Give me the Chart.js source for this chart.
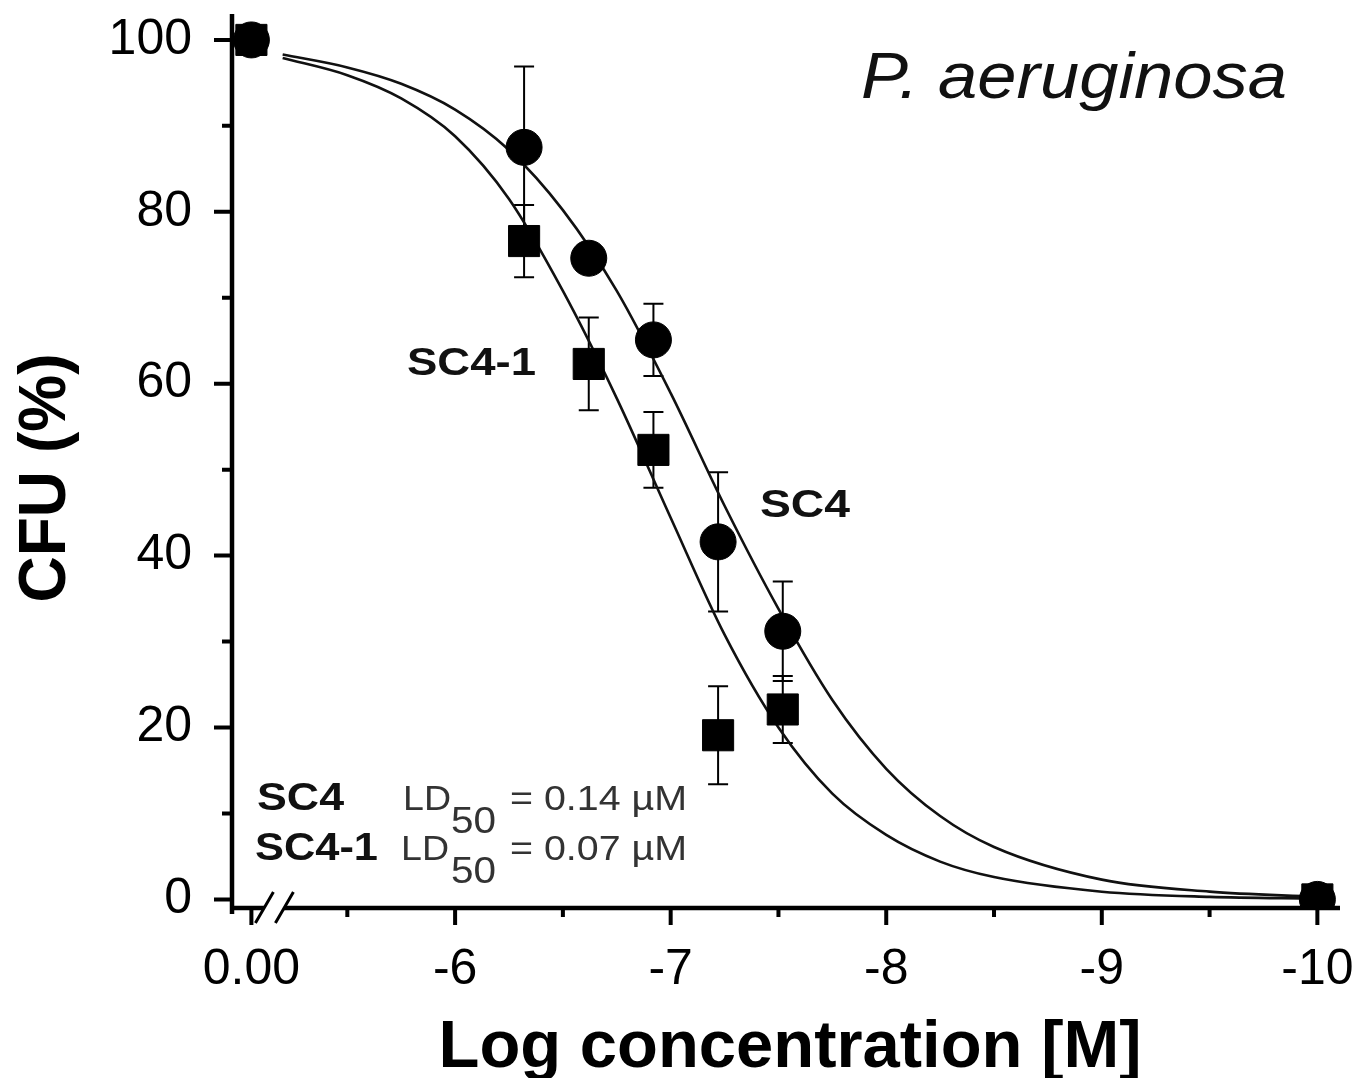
<!DOCTYPE html>
<html>
<head>
<meta charset="utf-8">
<script src="https://cdn.jsdelivr.net/npm/chart.js@4.4.1/dist/chart.umd.min.js"></script>
<style>
  html, body { margin: 0; padding: 0; background: #fff; }
  #wrap { width: 1358px; height: 1078px; }
</style>
</head>
<body>
<div id="wrap"><canvas id="myChart" width="1358" height="1078"></canvas></div>
<script>
// x position used for the "0.00" (no drug) point, left of the axis break
const ZERO_POS = -5.055;

// measured points (log concentration, CFU %)
const doseLog = [ZERO_POS, -6.32, -6.62, -6.92, -7.22, -7.52, -10];
const sc4Mean = [100, 87.5, 74.6, 65.1, 41.6, 31.2, 0];
const sc4Sd = [0, 9.4, 1.5, 4.2, 8.1, 5.8, 0];
const sc41Mean = [100, 76.6, 62.3, 52.3, 19.1, 22.1, 0];
const sc41Sd = [0, 4.2, 5.4, 4.4, 5.7, 3.9, 0];

// fitted curves
const fitLog = [-5.2, -5.5, -5.75, -6.0, -6.25, -6.5, -6.75, -7.0, -7.25, -7.5, -7.75, -8.0, -8.25, -8.5, -9.0, -9.5, -10.0];
const sc4Fit = [98.3, 96.8, 94.9, 91.9, 87.2, 80.2, 70.8, 58.9, 45.8, 33.8, 23.2, 15.2, 9.7, 6.1, 2.3, 0.9, 0.3];
const sc41Fit = [97.9, 95.9, 93.2, 88.8, 81.5, 70.8, 58.3, 44.4, 30.8, 20.0, 12.3, 7.5, 4.4, 2.6, 0.9, 0.3, 0.1];

// axes
const xTickVals = [ZERO_POS, -6, -7, -8, -9, -10];
const xTickLabels = ["0.00", "-6", "-7", "-8", "-9", "-10"];
const xMinorVals = [-5.5, -6.5, -7.5, -8.5, -9.5];
const yTickVals = [0, 20, 40, 60, 80, 100];
const yTickLabels = ["0", "20", "40", "60", "80", "100"];
const yMinorVals = [10, 30, 50, 70, 90];

const ctx = document.getElementById("myChart");
const INK = "#000";
const tickFont = { family: "'Liberation Sans', Arial, sans-serif", size: 50 };

const toXY = (xs, ys) => xs.map((x, i) => ({ x: x, y: ys[i] }));

// keep the plot box where the figure has it: no extra room for overhanging labels
function pinScale(scale) {
  scale.paddingTop = 0;
  scale.paddingBottom = 0;
  scale.paddingLeft = 0;
  scale.paddingRight = 0;
}

// draws text squeezed/stretched to a given width (the figure's fonts run wide)
function fitText(c, text, x, y, font, width, color, align) {
  c.save();
  c.font = font;
  c.fillStyle = color || INK;
  c.textBaseline = "alphabetic";
  c.textAlign = "left";
  const w = c.measureText(text).width;
  c.translate(x, y);
  c.scale(width / w, 1);
  c.fillText(text, align === "center" ? -w / 2 : 0, 0);
  c.restore();
}

const errorBars = {
  id: "errorBars",
  beforeDatasetsDraw(chart) {
    const c = chart.ctx;
    const xs = chart.scales.x;
    const ys = chart.scales.y;
    c.save();
    c.strokeStyle = INK;
    c.lineWidth = 2;
    [[sc4Mean, sc4Sd], [sc41Mean, sc41Sd]].forEach(([mean, sd]) => {
      doseLog.forEach((x, i) => {
        if (!sd[i]) return;
        const px = xs.getPixelForValue(x);
        const top = ys.getPixelForValue(mean[i] + sd[i]);
        const bot = ys.getPixelForValue(mean[i] - sd[i]);
        c.beginPath();
        c.moveTo(px, top); c.lineTo(px, bot);
        c.moveTo(px - 10, top); c.lineTo(px + 10, top);
        c.moveTo(px - 10, bot); c.lineTo(px + 10, bot);
        c.stroke();
      });
    });
    c.restore();
  },
};

const frame = {
  id: "frame",
  afterDatasetsDraw(chart) {
    const c = chart.ctx;
    const a = chart.chartArea;
    const xs = chart.scales.x;
    const ys = chart.scales.y;
    c.save();
    c.strokeStyle = INK;
    c.lineCap = "butt";

    // axis lines
    c.lineWidth = 4.5;
    c.beginPath();
    c.moveTo(a.left, a.top - 1);
    c.lineTo(a.left, a.bottom + 6);
    c.moveTo(a.left - 2, a.bottom);
    c.lineTo(a.right, a.bottom);
    c.stroke();

    // tick marks
    c.lineWidth = 4;
    c.beginPath();
    yTickVals.forEach((v) => {
      const py = ys.getPixelForValue(v);
      c.moveTo(a.left, py); c.lineTo(a.left - 18, py);
    });
    yMinorVals.forEach((v) => {
      const py = ys.getPixelForValue(v);
      c.moveTo(a.left, py); c.lineTo(a.left - 10, py);
    });
    xTickVals.forEach((v) => {
      const px = xs.getPixelForValue(v);
      c.moveTo(px, a.bottom); c.lineTo(px, a.bottom + 17);
    });
    xMinorVals.forEach((v) => {
      const px = xs.getPixelForValue(v);
      c.moveTo(px, a.bottom); c.lineTo(px, a.bottom + 9);
    });
    c.stroke();

    // axis break "//"
    const bx = xs.getPixelForValue(ZERO_POS) + 2;
    c.fillStyle = "#fff";
    c.beginPath();
    c.moveTo(bx + 2, a.bottom + 15);
    c.lineTo(bx + 20, a.bottom - 16);
    c.lineTo(bx + 40, a.bottom - 16);
    c.lineTo(bx + 22, a.bottom + 15);
    c.closePath();
    c.fill();
    c.lineWidth = 3;
    c.beginPath();
    c.moveTo(bx + 2, a.bottom + 15); c.lineTo(bx + 20, a.bottom - 16);
    c.moveTo(bx + 22, a.bottom + 15); c.lineTo(bx + 40, a.bottom - 16);
    c.stroke();
    c.restore();

    // texts
    const sans = "'Liberation Sans', Arial, sans-serif";
    fitText(c, "P. aeruginosa", 861, 98, "italic 64px " + sans, 426, "#111");
    fitText(c, "SC4-1", 407, 375, "bold 38px " + sans, 129, "#111");
    fitText(c, "SC4", 760, 517, "bold 38px " + sans, 90, "#111");

    fitText(c, "SC4", 257, 810, "bold 38px " + sans, 87, "#111");
    fitText(c, "LD", 403, 810, "35px " + sans, 48, "#333");
    fitText(c, "50", 451, 833, "36px " + sans, 45, "#333");
    fitText(c, "= 0.14 \u00b5M", 510, 810, "35px " + sans, 177, "#333");
    fitText(c, "SC4-1", 255, 860, "bold 38px " + sans, 123, "#111");
    fitText(c, "LD", 401, 860, "35px " + sans, 48, "#333");
    fitText(c, "50", 451, 883, "36px " + sans, 45, "#333");
    fitText(c, "= 0.07 \u00b5M", 510, 860, "35px " + sans, 177, "#333");

    fitText(c, "Log concentration [M]", 790, 1067, "bold 66px " + sans, 703, INK, "center");
    c.save();
    c.translate(65, 478);
    c.rotate(-Math.PI / 2);
    fitText(c, "CFU (%)", 0, 0, "bold 66px " + sans, 249, INK, "center");
    c.restore();
  },
};

new Chart(ctx, {
  type: "scatter",
  data: {
    datasets: [
      {
        label: "SC4-1",
        data: toXY(doseLog, sc41Mean),
        pointStyle: "rect",
        pointRadius: 22,
        backgroundColor: INK,
        borderColor: INK,
        borderWidth: 1,
        order: 0,
      },
      {
        label: "SC4",
        data: toXY(doseLog, sc4Mean),
        pointStyle: "circle",
        pointRadius: 18,
        backgroundColor: INK,
        borderColor: INK,
        borderWidth: 1,
        order: 1,
      },
      {
        label: "SC4 fit",
        data: toXY(fitLog, sc4Fit),
        showLine: true,
        pointRadius: 0,
        borderColor: "#111",
        borderWidth: 2.6,
        cubicInterpolationMode: "monotone",
        order: 2,
      },
      {
        label: "SC4-1 fit",
        data: toXY(fitLog, sc41Fit),
        showLine: true,
        pointRadius: 0,
        borderColor: "#111",
        borderWidth: 2.6,
        cubicInterpolationMode: "monotone",
        order: 2,
      },
    ],
  },
  options: {
    responsive: false,
    animation: false,
    devicePixelRatio: 1,
    layout: { autoPadding: false, padding: { left: 0, right: 18, top: 15, bottom: 0 } },
    plugins: {
      legend: { display: false },
      tooltip: { enabled: false },
    },
    scales: {
      x: {
        type: "linear",
        reverse: true,
        min: -10.105,
        max: -4.965,
        grid: { display: false },
        border: { display: false },
        afterBuildTicks: (scale) => {
          scale.ticks = xTickVals.map((v) => ({ value: v }));
        },
        afterFit: (scale) => {
          scale.height = 170;
          pinScale(scale);
        },
        ticks: {
          autoSkip: false,
          maxRotation: 0,
          padding: 24,
          color: INK,
          font: tickFont,
          callback: (value, index) => xTickLabels[index],
        },
      },
      y: {
        type: "linear",
        min: -1.0,
        max: 102.9,
        grid: { display: false },
        border: { display: false },
        afterBuildTicks: (scale) => {
          scale.ticks = yTickVals.map((v) => ({ value: v }));
        },
        afterFit: (scale) => {
          scale.width = 232;
          pinScale(scale);
        },
        ticks: {
          padding: 32,
          color: INK,
          font: tickFont,
          callback: (value, index) => yTickLabels[index],
        },
      },
    },
  },
  plugins: [errorBars, frame],
});
</script>
</body>
</html>
